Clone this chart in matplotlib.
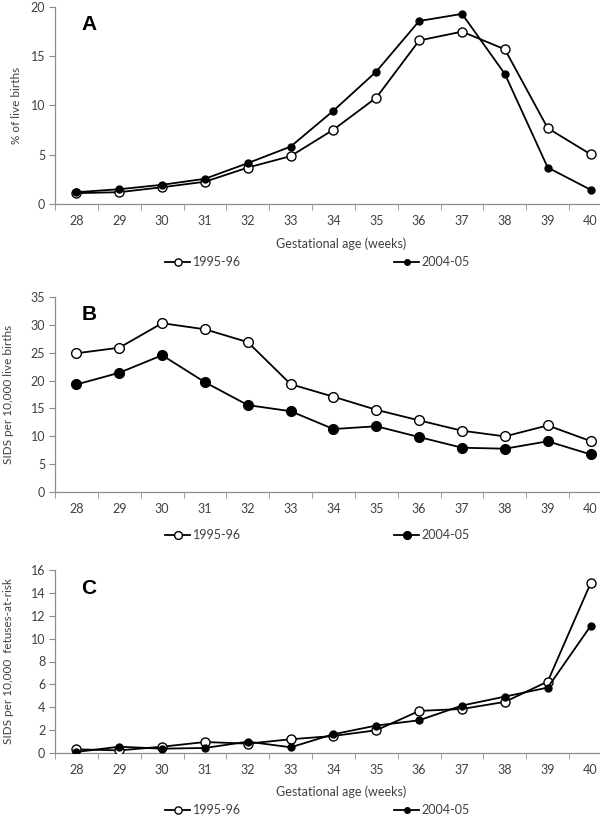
import numpy as np
import matplotlib
matplotlib.use("Agg")
import matplotlib.pyplot as plt
from matplotlib.ticker import FixedLocator

plt.rcParams['font.family'] = ['Lato', 'DejaVu Sans']

weeks = [28, 29, 30, 31, 32, 33, 34, 35, 36, 37, 38, 39, 40]
series_names = ["1995-96", "2004-05"]

# A: % of live births
a_1995 = [1.1, 1.2, 1.7, 2.26, 3.7, 4.86, 7.55, 10.8, 16.6, 17.5, 15.7, 7.7, 5.05]
a_2004 = [1.2, 1.5, 1.95, 2.56, 4.15, 5.83, 9.48, 13.45, 18.58, 19.3, 13.2, 3.7, 1.45]

# B: SIDS per 10,000 live births
b_1995 = [24.9, 25.9, 30.3, 29.2, 26.9, 19.35, 17.1, 14.75, 12.85, 11.0, 9.98, 11.95, 9.14]
b_2004 = [19.3, 21.4, 24.55, 19.7, 15.6, 14.5, 11.3, 11.8, 9.86, 7.95, 7.77, 9.1, 6.75]

# C: SIDS per 10,000 fetuses-at-risk
c_1995 = [0.32, 0.23, 0.55, 0.96, 0.82, 1.2, 1.49, 1.99, 3.68, 3.85, 4.47, 6.25, 14.83]
c_2004 = [0.09, 0.55, 0.38, 0.44, 0.99, 0.5, 1.64, 2.4, 2.86, 4.15, 4.93, 5.72, 11.1]

W, H = 600, 817
fig = plt.figure(figsize=(W / 100, H / 100), dpi=100)
txt = '#404040'
axc = '#8c8c8c'


def px(x, y):
    return x / W, 1 - y / H


def panel(top, bottom, ymax, ystep, d1, d2, letter, ylabel, xlabel, leg_y, ms_open, ms_fill, ylab_x):
    l, b = px(55, bottom)
    ax = fig.add_axes([l, b, 545 / W, (bottom - top) / H])
    ax.plot(weeks, d1, color='black', lw=1.3, marker='o', ms=ms_open,
            mfc='white', mec='black', mew=1.0, label=series_names[0], zorder=3)
    ax.plot(weeks, d2, color='black', lw=1.3, marker='o', ms=ms_fill,
            mfc='black', mec='black', label=series_names[1], zorder=4)
    ax.set_xlim(27.5, 40.22)
    ax.set_ylim(0, ymax)
    ax.set_yticks(np.arange(0, ymax + 0.1, ystep))
    ax.set_xticks(weeks)
    ax.xaxis.set_minor_locator(FixedLocator(np.arange(27.5, 41, 1)))
    ax.tick_params(axis='x', which='major', length=0, pad=8, labelsize=9, labelcolor=txt)
    ax.tick_params(axis='x', which='minor', length=4, color=axc, direction='out')
    ax.tick_params(axis='y', length=4, color=axc, pad=3, labelsize=9, labelcolor=txt)
    for s in ['top', 'right']:
        ax.spines[s].set_visible(False)
    for s in ['left', 'bottom']:
        ax.spines[s].set_color(axc)
        ax.spines[s].set_linewidth(0.9)
    ax.set_ylabel(ylabel, fontsize=8.5, color=txt)
    ax.yaxis.set_label_coords(ylab_x, 0.5)
    fig.text(*px(89, top + 18), letter, fontsize=15, fontweight='bold',
             family='Liberation Sans', ha='center', va='center')
    if xlabel:
        fig.text(*px(341, leg_y - 18), xlabel, fontsize=9, color=txt, ha='center', va='center')
    ax.legend(loc='center left', bbox_to_anchor=px(165, leg_y), bbox_transform=fig.transFigure,
              ncol=2, frameon=False, handlelength=2.0, handletextpad=0.2,
              columnspacing=12.3, borderpad=0, borderaxespad=0, fontsize=9,
              labelcolor=txt, markerscale=0.8)
    return ax


panel(7, 204, 20, 5, a_1995, a_2004, 'A', '% of live births',
      'Gestational age (weeks)', 262, 6.5, 5, -0.06)
panel(297, 492, 35, 5, b_1995, b_2004, 'B', 'SIDS per 10,000 live births',
      None, 535, 7, 7, -0.075)
panel(570, 753, 16, 2, c_1995, c_2004, 'C', 'SIDS per 10,000  fetuses-at-risk',
      'Gestational age (weeks)', 810, 6.5, 5, -0.075)

fig.savefig('out.png', dpi=100)
